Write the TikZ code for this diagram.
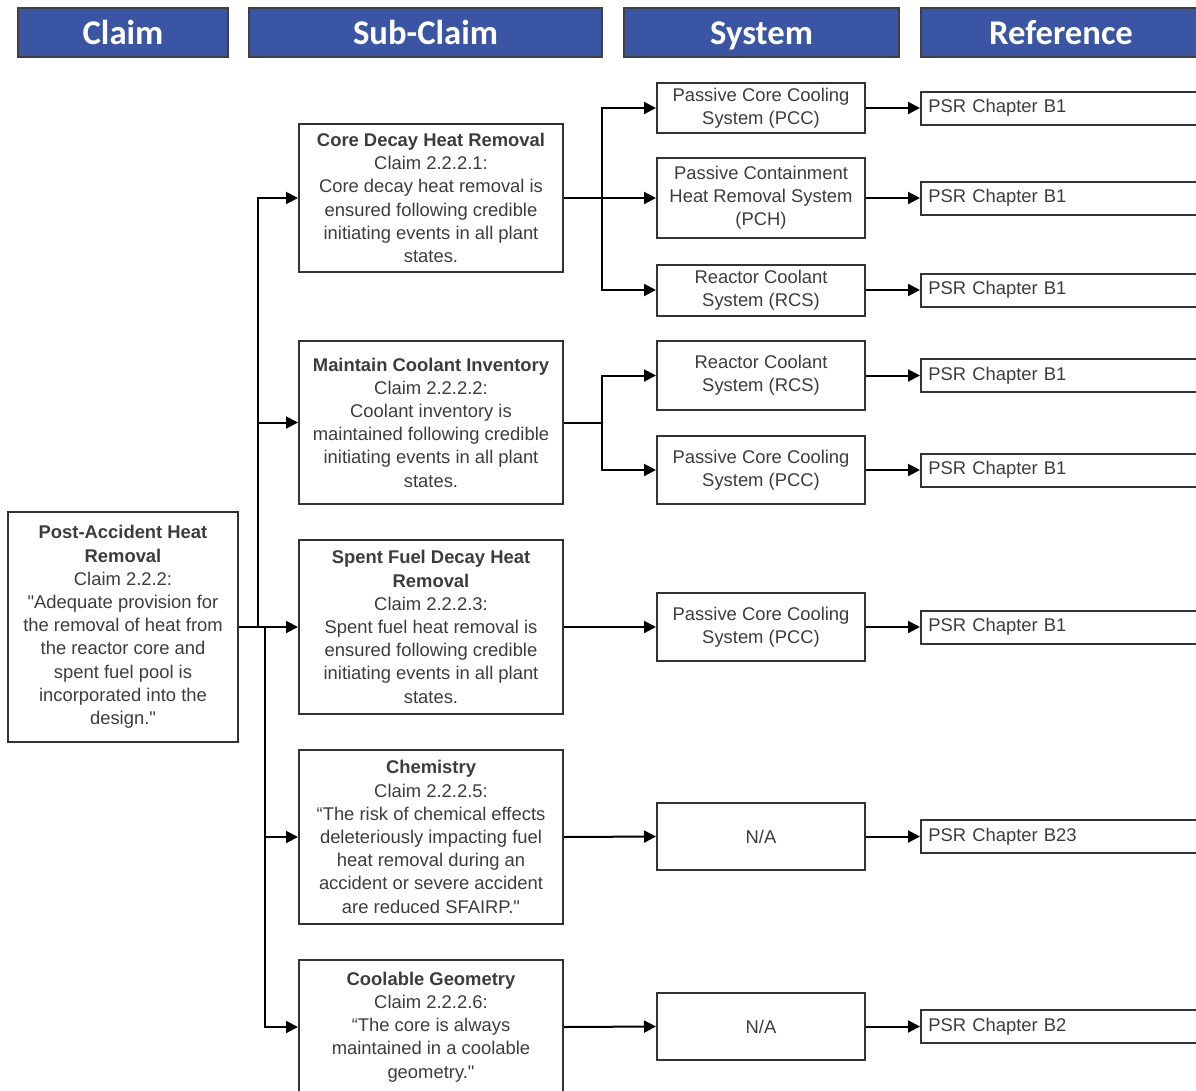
\documentclass[tikz,border=0pt]{standalone}
\usepackage{fontspec}
\setmainfont{Liberation Sans}
\newfontfamily\headfont{Carlito}
\usetikzlibrary{arrows.meta}

\definecolor{headblue}{RGB}{57,85,163}
\definecolor{txtgray}{RGB}{60,60,60}

\tikzset{every picture/.style={line width=0.75pt}}
\tikzset{
  headbox/.style={draw=black!75, fill=headblue, text=white, line width=1pt, inner sep=0pt,
    text height=20pt, text depth=2.5pt, font=\headfont\bfseries\fontsize{26}{30}\selectfont},
  claimbox/.style={draw=black!80, line width=1.5pt, align=center, text=txtgray, inner sep=0pt,
    font=\fontsize{13.8}{17.4}\selectfont},
  sysbox/.style={claimbox, minimum width=156pt},
  refbox/.style={draw=black!80, line width=1.5pt, align=left, text=txtgray, inner xsep=5.5pt, inner ysep=0pt,
    text width=199pt, minimum height=24.75pt, font=\fontsize{13.8}{17.4}\selectfont},
  arr/.style={line width=1.5pt, -{Triangle[length=9pt,width=9pt]}}
}

\begin{document}
\begin{tikzpicture}[x=0.75pt,y=0.75pt,yscale=-1,xscale=1]
	\useasboundingbox (0,0) rectangle (1196,1090);
	
	% Header Nodes
	\draw (123,32.5) node [headbox, minimum width=157.5pt, minimum height=36.75pt] (hclaim) {Claim};
	\draw (425.5,32.5) node [headbox, minimum width=264.75pt, minimum height=36.75pt] (hsub) {Sub-Claim};
	\draw (761.5,32.5) node [headbox, minimum width=206.25pt, minimum height=36.75pt] (hsys) {System};
	\draw (1061,32.5) node [headbox, minimum width=210pt, minimum height=36.75pt] (href) {Reference};
	
	%Shape: Rectangle - claim
	\draw (123,627) node [claimbox, minimum width=172.5pt, minimum height=172.5pt] (claim) {\textbf{Post-Accident Heat}\\\textbf{Removal}\\Claim 2.2.2:\\\textquotedbl Adequate provision for\\the removal of heat from\\the reactor core and\\spent fuel pool is\\incorporated into the\\design.\textquotedbl};
	
	%Shape: Rectangle - sub-claims
	\draw (431,198) node [claimbox, minimum width=198pt, minimum height=111pt] (core) {\textbf{Core Decay Heat Removal}\\Claim 2.2.2.1:\\Core decay heat removal is\\ensured following credible\\initiating events in all plant\\states.};
	\draw (431,422.5) node [claimbox, minimum width=198pt, minimum height=122.25pt] (coolant) {\textbf{Maintain Coolant Inventory}\\Claim 2.2.2.2:\\Coolant inventory is\\maintained following credible\\initiating events in all plant\\states.};
	\draw (431,627) node [claimbox, minimum width=198pt, minimum height=130.5pt] (spent) {\textbf{Spent Fuel Decay Heat}\\\textbf{Removal}\\Claim 2.2.2.3:\\Spent fuel heat removal is\\ensured following credible\\initiating events in all plant\\states.};
	\draw (431,837) node [claimbox, minimum width=198pt, minimum height=130.5pt] (chem) {\textbf{Chemistry}\\Claim 2.2.2.5:\\“The risk of chemical effects\\deleteriously impacting fuel\\heat removal during an\\accident or severe accident\\are reduced SFAIRP.\textquotedbl};
	\draw (431,1027) node [claimbox, minimum width=198pt, minimum height=100.5pt] (geom) {\textbf{Coolable Geometry}\\Claim 2.2.2.6:\\“The core is always\\maintained in a coolable\\geometry.\textquotedbl};
	
	%Shape: Rectangle - systems
	\draw (761,108) node [sysbox, minimum height=37.5pt] (pccA) {Passive Core Cooling\\System (PCC)};
	\draw (761,198) node [sysbox, minimum height=60pt] (pch) {Passive Containment\\Heat Removal System\\(PCH)};
	\draw (761,290) node [sysbox, minimum height=38.25pt] (rcsA) {Reactor Coolant\\System (RCS)};
	\draw (761,375.5) node [sysbox, minimum height=51.75pt] (rcsB) {Reactor Coolant\\System (RCS)};
	\draw (761,470) node [sysbox, minimum height=51pt] (pccB) {Passive Core Cooling\\System (PCC)};
	\draw (761,627) node [sysbox, minimum height=51pt] (pccC) {Passive Core Cooling\\System (PCC)};
	\draw (761,836.5) node [sysbox, minimum height=50.25pt] (naA) {N/A};
	\draw (761,1026.5) node [sysbox, minimum height=50.25pt] (naB) {N/A};
	
	%Shape: Rectangle - references
	\draw (1061,108) node [refbox] (refA) {PSR Chapter B1};
	\draw (1061,198) node [refbox] (refB) {PSR Chapter B1};
	\draw (1061,290) node [refbox] (refC) {PSR Chapter B1};
	\draw (1061,375.5) node [refbox] (refD) {PSR Chapter B1};
	\draw (1061,470) node [refbox] (refE) {PSR Chapter B1};
	\draw (1061,627) node [refbox] (refF) {PSR Chapter B1};
	\draw (1061,836.5) node [refbox] (refG) {PSR Chapter B23};
	\draw (1061,1026.5) node [refbox] (refH) {PSR Chapter B2};
	
	%Straight Lines - claim to sub-claims
	\draw [arr] (claim.east) -- ++(19,0) |- (core.west);
	\draw [arr] (claim.east) -- ++(19,0) |- (coolant.west);
	\draw [arr] (claim.east) -- (spent.west);
	\draw [arr] (claim.east) -- ++(26,0) |- (chem.west);
	\draw [arr] (claim.east) -- ++(26,0) |- (geom.west);
	
	%Straight Lines - sub-claims to systems
	\draw [arr] (core.east) -- ++(38,0) |- (pccA.west);
	\draw [arr] (core.east) -- (pch.west);
	\draw [arr] (core.east) -- ++(38,0) |- (rcsA.west);
	\draw [arr] (coolant.east) -- ++(38,0) |- (rcsB.west);
	\draw [arr] (coolant.east) -- ++(38,0) |- (pccB.west);
	\draw [arr] (spent.east) -- (pccC.west);
	\draw [arr] (chem.east) -- (naA.west);
	\draw [arr] (geom.east) -- (naB.west);
	
	%Straight Lines - systems to references
	\draw [arr] (pccA.east) -- (refA.west);
	\draw [arr] (pch.east) -- (refB.west);
	\draw [arr] (rcsA.east) -- (refC.west);
	\draw [arr] (rcsB.east) -- (refD.west);
	\draw [arr] (pccB.east) -- (refE.west);
	\draw [arr] (pccC.east) -- (refF.west);
	\draw [arr] (naA.east) -- (refG.west);
	\draw [arr] (naB.east) -- (refH.west);
	
\end{tikzpicture}
\end{document}
